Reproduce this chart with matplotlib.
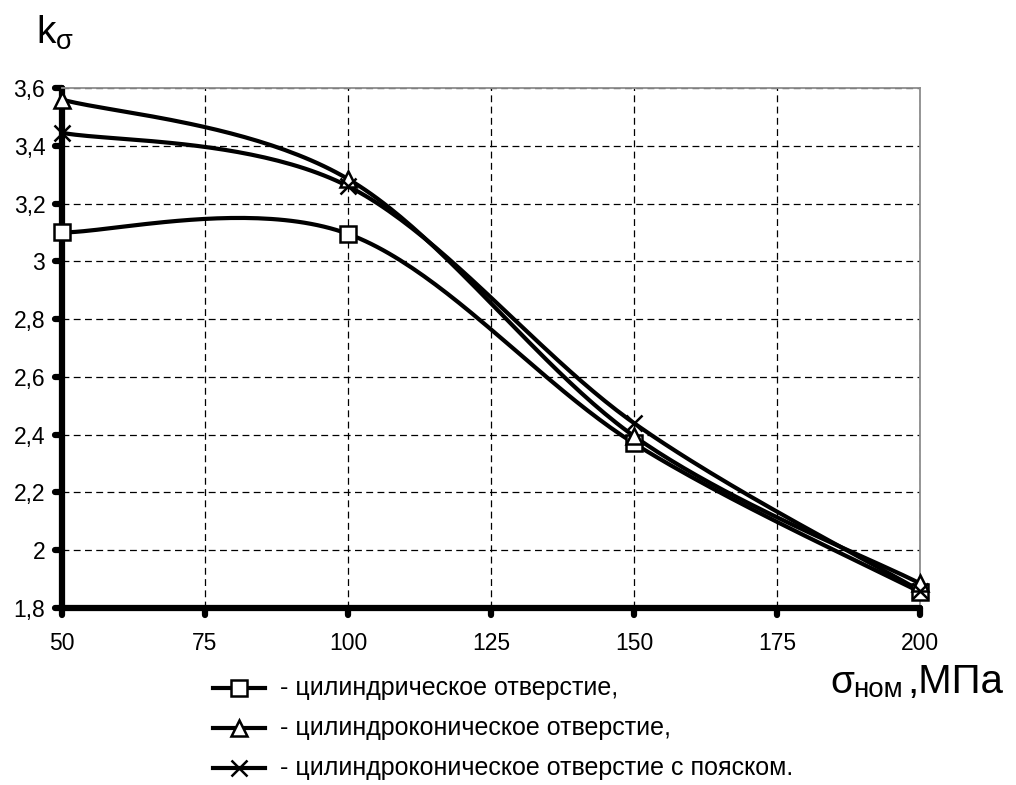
import numpy as np
import matplotlib.pyplot as plt
from matplotlib.lines import Line2D
from matplotlib.markers import MarkerStyle, TICKLEFT, TICKDOWN
from matplotlib.ticker import FuncFormatter

plt.rcParams['font.family'] = ['Liberation Sans', 'DejaVu Sans']
plt.rcParams['mathtext.fontset'] = 'custom'
plt.rcParams['mathtext.rm'] = 'Liberation Sans'

# ---------- данные ----------
SIGMA = [50, 100, 150, 200]
K_CYL = [3.10, 3.095, 2.37, 1.855]
K_CONE = [3.56, 3.285, 2.395, 1.885]
K_BELT = [3.445, 3.26, 2.44, 1.86]

SERIES = [K_CYL, K_CONE, K_BELT]
MARKERS = ['s', '^', 'x']
LABELS = [
    '- цилиндрическое отверстие,',
    '- цилиндроконическое отверстие,',
    '- цилиндроконическое отверстие с пояском.',
]

X_TICKS = [50, 75, 100, 125, 150, 175, 200]
Y_TICKS = [1.8, 2.0, 2.2, 2.4, 2.6, 2.8, 3.0, 3.2, 3.4, 3.6]


def smooth_curve(x, y, n=50):
    # сглаженная линия как в Excel: кубические Безье через точки (Catmull-Rom)
    p = np.column_stack([x, y]).astype(float)
    ext = np.vstack([p[0], p, p[-1]])
    t = np.linspace(0, 1, n)[:, None]
    parts = []
    for i in range(len(p) - 1):
        p0 = ext[i + 1]
        p3 = ext[i + 2]
        c1 = p0 + (ext[i + 2] - ext[i]) / 6
        c2 = p3 - (ext[i + 3] - ext[i + 1]) / 6
        seg = ((1 - t) ** 3 * p0 + 3 * (1 - t) ** 2 * t * c1
               + 3 * (1 - t) * t ** 2 * c2 + t ** 3 * p3)
        parts.append(seg if i == 0 else seg[1:])
    pts = np.vstack(parts)
    return pts[:, 0], pts[:, 1]


def comma_fmt(v, pos):
    s = f'{v:.1f}'.rstrip('0').rstrip('.')
    return s.replace('.', ',')


fig = plt.figure(figsize=(10.16, 7.85), dpi=100)
ax = fig.add_axes([62 / 1016, 1 - 608 / 785, (920 - 62) / 1016, (608 - 88) / 785])

for ys, mk in zip(SERIES, MARKERS):
    sx, sy = smooth_curve(SIGMA, ys)
    ax.plot(sx, sy, color='black', lw=3, zorder=4, clip_on=False,
            solid_capstyle='round')
for ys, mk in zip(SERIES, MARKERS):
    ax.plot(SIGMA, ys, linestyle='none', marker=mk, ms=11.5,
            mfc='white', mec='black', mew=1.8, zorder=5, clip_on=False)

ax.set_xlim(50, 200)
ax.set_ylim(1.8, 3.6)
ax.set_xticks(X_TICKS)
ax.set_yticks(Y_TICKS)
ax.yaxis.set_major_formatter(FuncFormatter(comma_fmt))

ax.grid(True, color='black', linestyle=(0, (5.5, 3.5)), linewidth=0.9)
ax.set_axisbelow(True)

for side in ['left', 'bottom']:
    ax.spines[side].set_linewidth(4.5)
    ax.spines[side].set_color('black')
    ax.spines[side].set_capstyle('round')
for side in ['top', 'right']:
    ax.spines[side].set_linewidth(1.3)
    ax.spines[side].set_color('#8c8c8c')

ax.tick_params(axis='both', direction='out', length=5, width=4.5,
               color='black', labelsize=16.5)
ax.tick_params(axis='y', pad=7)
ax.tick_params(axis='x', pad=12)
for t in ax.yaxis.get_major_ticks():
    t.tick1line.set_marker(MarkerStyle(TICKLEFT, capstyle='round'))
for t in ax.xaxis.get_major_ticks():
    t.tick1line.set_marker(MarkerStyle(TICKDOWN, capstyle='round'))

# подпись оси Y
fig.text(36 / 1016, 1 - 44 / 785, r'$\mathregular{k_σ}$', fontsize=28,
         va='baseline', ha='left')

# подпись оси X: σ, индекс «ном», затем «,МПа»
y_base = 1 - 693 / 785
fig.text(830 / 1016, y_base, 'σ', fontsize=28, va='baseline', ha='left')
fig.text(853 / 1016, 1 - 697 / 785, 'ном', fontsize=20, va='baseline', ha='left')
fig.text(907 / 1016, y_base, ',МПа', fontsize=29, va='baseline', ha='left')

# легенда
for i, (lab, mk) in enumerate(zip(LABELS, MARKERS)):
    y = 1 - (688 + 40 * i) / 785
    fig.add_artist(Line2D([213 / 1016, 239 / 1016, 265 / 1016], [y, y, y],
                          transform=fig.transFigure, color='black', lw=3,
                          marker=mk, markevery=[1], ms=11.5, mfc='white',
                          mec='black', mew=1.8))
    fig.text(280 / 1016, y, lab, fontsize=18, va='center', ha='left')

fig.savefig('out.png', dpi=100, facecolor='white')
